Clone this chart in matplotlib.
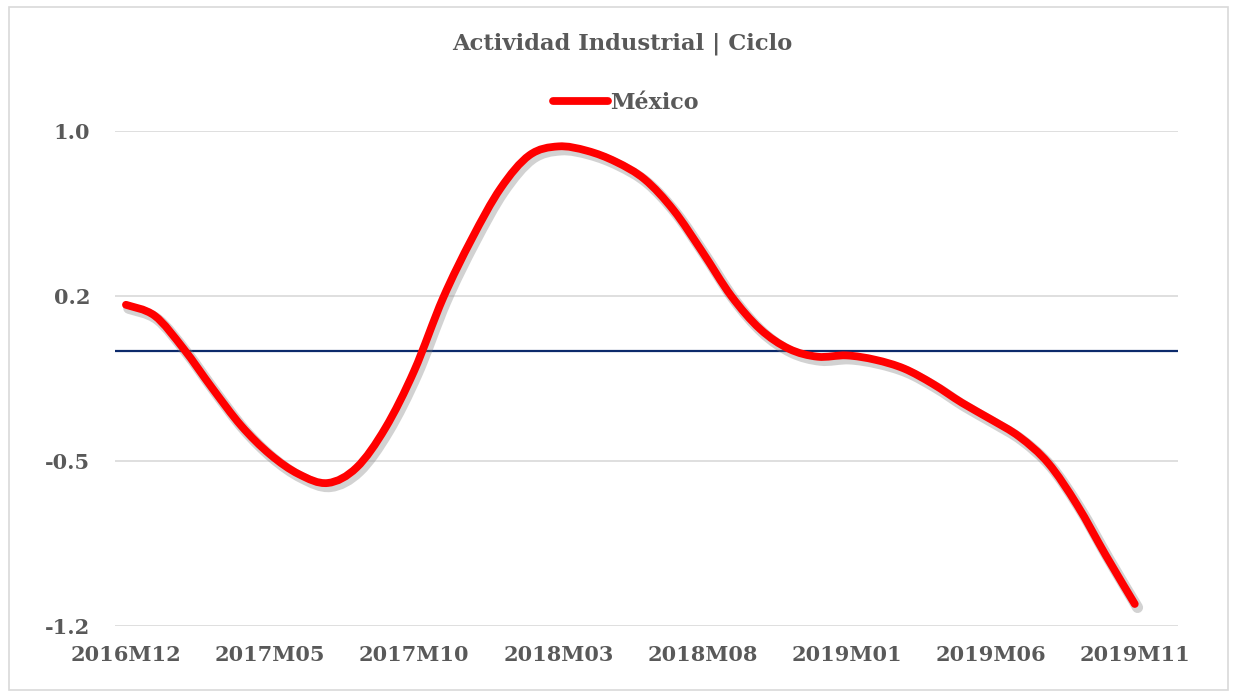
import matplotlib
matplotlib.use("Agg")
import matplotlib.pyplot as plt
import matplotlib.patheffects as pe
from matplotlib.patches import Rectangle, PathPatch
from matplotlib.path import Path
from matplotlib.lines import Line2D

# ---- data (cycle of industrial activity, Mexico) ----
months = []
for year, m_start, m_end in [(2016, 12, 12), (2017, 1, 12), (2018, 1, 12), (2019, 1, 11)]:
    for m in range(m_start, m_end + 1):
        months.append(f"{year}M{m:02d}")

mexico = [0.21, 0.16, 0.01, -0.17, -0.34, -0.47, -0.56, -0.60, -0.53, -0.35,
          -0.09, 0.24, 0.51, 0.74, 0.89, 0.93, 0.91, 0.86, 0.78, 0.64,
          0.45, 0.25, 0.10, 0.01, -0.026, -0.02, -0.04, -0.08, -0.15, -0.235,
          -0.31, -0.39, -0.51, -0.70, -0.93, -1.15]

ytick_vals = [1.0, 0.25, -0.5, -1.25]
ytick_labels = ["1.0", "0.2", "-0.5", "-1.2"]

text_col = '#595959'
red = '#ff0000'
font = 'DejaVu Serif'


def smooth_path(xs, ys):
    # excel-style "smoothed line": bezier segments through the points
    pts = list(zip(xs, ys))
    n = len(pts)
    verts = [pts[0]]
    codes = [Path.MOVETO]
    for i in range(n - 1):
        p0 = pts[i - 1] if i > 0 else pts[i]
        p1 = pts[i]
        p2 = pts[i + 1]
        p3 = pts[i + 2] if i + 2 < n else pts[i + 1]
        c1 = (p1[0] + (p2[0] - p0[0]) / 6, p1[1] + (p2[1] - p0[1]) / 6)
        c2 = (p2[0] - (p3[0] - p1[0]) / 6, p2[1] - (p3[1] - p1[1]) / 6)
        verts += [c1, c2, p2]
        codes += [Path.CURVE4] * 3
    return Path(verts, codes)


fig = plt.figure(figsize=(12.33, 6.93), dpi=100)
ax = fig.add_axes([115/1233, 1 - 626/693, (1178 - 115)/1233, (626 - 131)/693])

x = list(range(len(months)))

# gridlines + zero line
for v in ytick_vals:
    ax.axhline(v, color='#d9d9d9', linewidth=1.2, zorder=1)
ax.axhline(0, color='#0c2a6b', linewidth=1.6, zorder=2)

curve = PathPatch(smooth_path(x, mexico), fill=False, edgecolor=red, linewidth=5.6,
                  capstyle='round', joinstyle='round', zorder=3,
                  path_effects=[pe.SimpleLineShadow(offset=(2, -2.5), shadow_color='#7f7f7f',
                                                     alpha=0.35, linewidth=8),
                                pe.Normal()])
ax.add_patch(curve)

ax.set_xlim(-0.38, 36.5)
ax.set_ylim(-1.25, 1.0)
ax.set_yticks(ytick_vals)
ax.set_yticklabels(ytick_labels)
ax.set_xticks(x[::5])
ax.set_xticklabels(months[::5])

for s in ax.spines.values():
    s.set_visible(False)
ax.tick_params(length=0, labelsize=15, labelcolor=text_col)
ax.tick_params(axis='x', pad=14)
ax.tick_params(axis='y', pad=18)
for lab in ax.get_xticklabels() + ax.get_yticklabels():
    lab.set_fontfamily(font)
    lab.set_fontweight('bold')

# title
fig.text(622/1233, 1 - 44/693, 'Actividad Industrial | Ciclo', ha='center', va='center',
         fontsize=16.3, fontweight='bold', color=text_col, family=font)

# legend
handle = Line2D([], [], color=red, linewidth=5.6, solid_capstyle='round', label='México')
leg = fig.legend(handles=[handle], loc='center', bbox_to_anchor=(626/1233, 1 - 103/693),
                 frameon=False, handlelength=2.5, handletextpad=0.1,
                 prop={'family': font, 'weight': 'bold', 'size': 16})
for t in leg.get_texts():
    t.set_color(text_col)

# chart border
fig.patches.append(Rectangle((9/1233, 3/693), (1228 - 9)/1233, (686 - 3)/693,
                             transform=fig.transFigure, fill=False,
                             edgecolor='#d9d9d9', linewidth=1.2))

fig.savefig('out.png', dpi=100, facecolor='white')
